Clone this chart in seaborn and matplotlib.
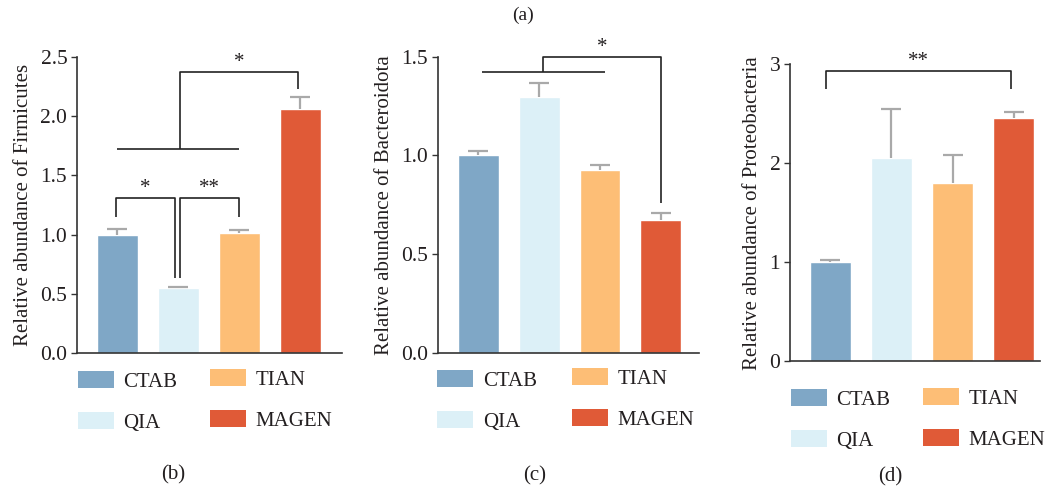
import matplotlib
matplotlib.use("Agg")
import matplotlib.pyplot as plt
from matplotlib.patches import Patch
import numpy as np
import pandas as pd
import seaborn as sns

# ---------------- data ----------------
methods = ["CTAB", "QIA", "TIAN", "MAGEN"]
colors = ["#7fa7c6", "#dcf0f7", "#fdbe76", "#e05a37"]

firmicutes = [1.00, 0.545, 1.01, 2.06]
firmicutes_err = [0.05, 0.015, 0.025, 0.10]

bacteroidota = [1.00, 1.296, 0.926, 0.673]
bacteroidota_err = [0.024, 0.072, 0.027, 0.035]

proteobacteria = [1.00, 2.05, 1.80, 2.46]
proteobacteria_err = [0.02, 0.50, 0.28, 0.06]

ylabels = ["Relative abundance of Firmicutes",
           "Relative abundance of Bacteroidota",
           "Relative abundance of Proteobacteria"]
yticks_b = [0.0, 0.5, 1.0, 1.5, 2.0, 2.5]
yticks_c = [0.0, 0.5, 1.0, 1.5]
yticks_d = [0, 1, 2, 3]
captions = ["(b)", "(c)", "(d)"]

# ---------------- style ----------------
sns.set_theme(style="ticks")
plt.rcParams["font.family"] = ["Liberation Serif", "DejaVu Serif"]
TXT = "#231f20"
FS = 15
FT = 15.5
FL = 15
plt.rcParams["text.color"] = TXT
plt.rcParams["axes.labelcolor"] = TXT
plt.rcParams["xtick.color"] = TXT
plt.rcParams["ytick.color"] = TXT

W, H = 1047, 492
fig = plt.figure(figsize=(W / 100, H / 100), dpi=100)


def fx(px):
    return px / W


def fy(py):
    return 1 - py / H


def make_axes(left, right, top, bottom):
    return fig.add_axes([fx(left), fy(bottom), (right - left) / W, (bottom - top) / H])


panels = [
    dict(vals=firmicutes, err=firmicutes_err, ylim=(0, 2.5), xlim=(-0.66, 3.68),
         ticks=yticks_b, fmt="{:.1f}", box=(77, 342, 57, 353)),
    dict(vals=bacteroidota, err=bacteroidota_err, ylim=(0, 1.5), xlim=(-0.67, 3.63),
         ticks=yticks_c, fmt="{:.1f}", box=(437.7, 699, 56.7, 352.7)),
    dict(vals=proteobacteria, err=proteobacteria_err, ylim=(0, 3), xlim=(-0.66, 3.43),
         ticks=yticks_d, fmt="{:d}", box=(790, 1040, 64.3, 361)),
]

axes = []
for i, p in enumerate(panels):
    l, r, t, b = p["box"]
    ax = make_axes(l, r, t, b)
    df = pd.DataFrame({"method": methods, "value": p["vals"]})
    sns.barplot(data=df, x="method", y="value", hue="method", palette=colors,
                width=0.67, saturation=1, legend=False, ax=ax, errorbar=None)
    xs = np.arange(len(methods))
    eb = ax.errorbar(xs, p["vals"], yerr=[np.zeros(len(methods)), p["err"]], fmt="none",
                     ecolor="#a9a9a9", elinewidth=1.6, capsize=7.2, capthick=1.6, zorder=3)
    caps = eb[1]
    if len(caps) == 2:
        caps[0].set_visible(False)
    ax.set_xlim(*p["xlim"])
    ax.set_ylim(*p["ylim"])
    ax.set_yticks(p["ticks"])
    ax.set_yticklabels([p["fmt"].format(v) for v in p["ticks"]], fontsize=FT)
    ax.set_xticks([])
    ax.set_xlabel("")
    ax.set_ylabel(ylabels[i], fontsize=FS, labelpad=5)
    for s in ["top", "right"]:
        ax.spines[s].set_visible(False)
    for s in ["left", "bottom"]:
        ax.spines[s].set_color("#333333")
        ax.spines[s].set_linewidth(1.2)
    ax.tick_params(axis="y", length=4, width=1.0, color="#333333", pad=3)
    axes.append(ax)

LC = "#222222"
LW = 1.2


def line(ax, xs, ys):
    ax.plot(xs, ys, color=LC, lw=LW, clip_on=False, solid_capstyle="butt", zorder=4)


# panel b brackets
axb = axes[0]
line(axb, [0, 2], [1.72, 1.72])
line(axb, [1.02, 1.02, 2.96, 2.96], [1.72, 2.37, 2.37, 2.23])
axb.text(1.99, 2.37, "*", ha="center", va="bottom", fontsize=FS)
line(axb, [-0.02, -0.02, 0.94, 0.94], [1.15, 1.31, 1.31, 0.63])
line(axb, [1.03, 1.03, 2.0, 2.0], [0.63, 1.31, 1.31, 1.15])
axb.text(0.46, 1.31, "*", ha="center", va="bottom", fontsize=FS)
axb.text(1.51, 1.31, "**", ha="center", va="bottom", fontsize=FS)

# panel c brackets
axc = axes[1]
line(axc, [0.06, 2.08], [1.42, 1.42])
line(axc, [1.07, 1.07, 3.0, 3.0], [1.42, 1.5, 1.5, 0.76])
axc.text(2.03, 1.5, "*", ha="center", va="bottom", fontsize=FS)

# panel d bracket
axd = axes[2]
line(axd, [-0.07, -0.07, 2.95, 2.95], [2.75, 2.935, 2.935, 2.75])
axd.text(1.44, 2.935, "**", ha="center", va="bottom", fontsize=FS)

# legends (two columns per panel)
handles = [Patch(facecolor=c, edgecolor="none") for c in colors]
legend_pos = [((78, 371), (210, 369)), ((437.3, 370), (572, 368)), ((791, 389), (923, 388))]
hl = 36 / (FL * 100 / 72)
hh = 18 / (FL * 100 / 72)
for (c1, c2) in legend_pos:
    for (px, py), idx in zip((c1, c2), ([0, 1], [2, 3])):
        fig.legend([handles[j] for j in idx], [methods[j] for j in idx],
                   loc="upper left", bbox_to_anchor=(fx(px), fy(py)),
                   frameon=False, fontsize=FL, handlelength=hl, handleheight=hh,
                   handletextpad=0.45, labelspacing=1.0, borderpad=0, borderaxespad=0)

# captions
fig.text(fx(523), fy(15), "(a)", ha="center", va="center", fontsize=FS - 1)
for cap, (px, py) in zip(captions, [(173, 475), (535, 476), (890, 477)]):
    fig.text(fx(px), fy(py), cap, ha="center", va="center", fontsize=FS)

fig.savefig("out.png", dpi=100)
